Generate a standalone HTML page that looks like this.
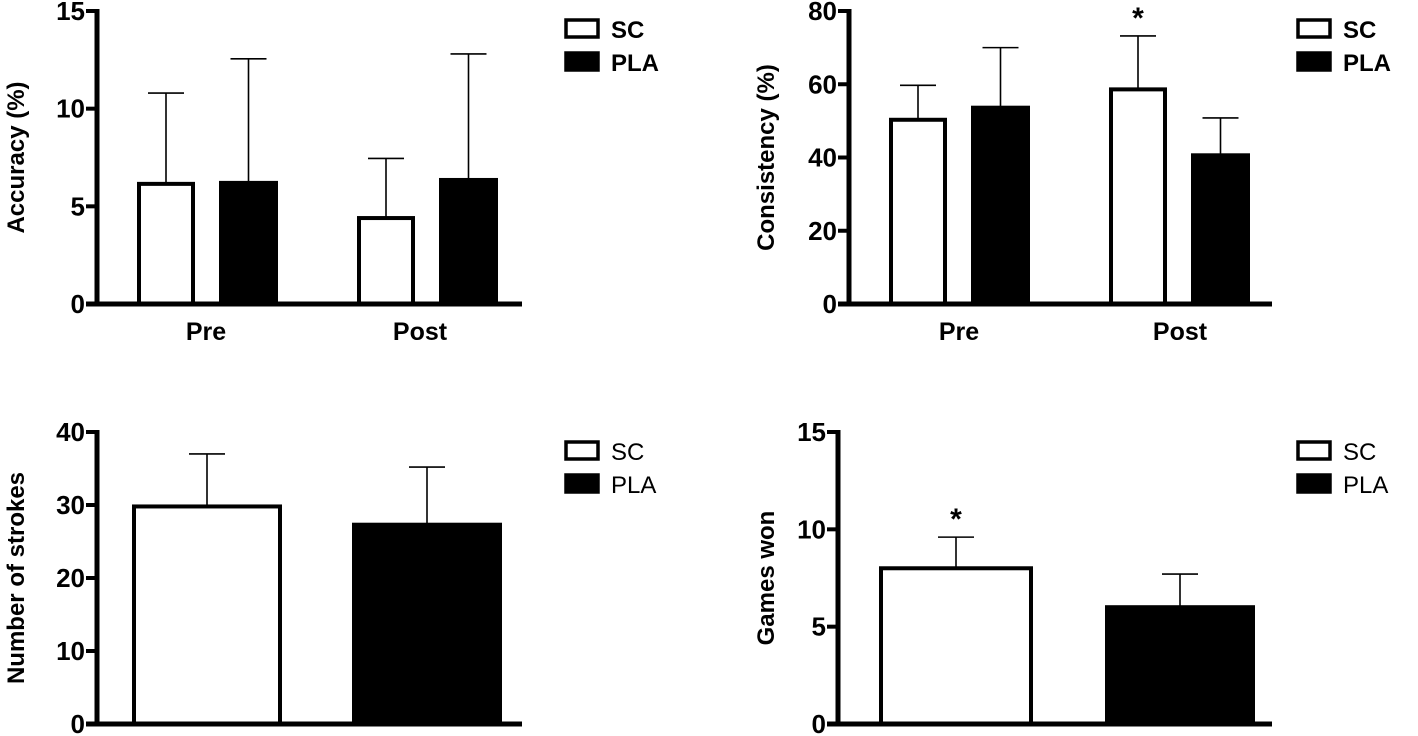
<!DOCTYPE html>
<html><head><meta charset="utf-8"><style>
html,body{margin:0;padding:0;background:#fff;}
svg{display:block;font-family:"Liberation Sans",Arial,sans-serif;}
</style></head><body>
<svg id="fig" width="1418" height="736" viewBox="0 0 1418 736"></svg>
<script>
const accCategories=["Pre","Post"];
const accSC=[6.15,4.4];
const accSCErr=[10.8,7.45];
const accPLA=[6.2,6.35];
const accPLAErr=[12.55,12.8];
const accTicks=[0,5,10,15];

const conSC=[50.3,58.6];
const conSCErr=[59.7,73.2];
const conPLA=[53.6,40.6];
const conPLAErr=[70,50.8];
const conTicks=[0,20,40,60,80];

const strokesVals=[29.8,27.3];
const strokesErr=[37,35.2];
const strokesTicks=[0,10,20,30,40];

const gamesVals=[8,6];
const gamesErr=[9.6,7.7];
const gamesTicks=[0,5,10,15];

const NS="http://www.w3.org/2000/svg";
const svg=document.getElementById('fig');
function mk(tag,attrs,parent,text){const e=document.createElementNS(NS,tag);for(const k in attrs)e.setAttribute(k,attrs[k]);if(text!==undefined)e.textContent=text;(parent||svg).appendChild(e);return e;}

function panel(o){
  const g=mk('g',{});
  
  
  const max=o.ticks[o.ticks.length-1];
  const y=v=>o.y0-(v/max)*(o.y0-o.yTop);
  o.bars.forEach(b=>{
    const top=y(b.v), et=y(b.e), cx=(b.x0+b.x1)/2;
    const el=mk('line',{x1:cx,x2:cx,y1:top,y2:et,stroke:'#000','stroke-width':1.6},g);
    
    
    const cap=mk('line',{x1:cx-18,x2:cx+18,y1:et,y2:et,stroke:'#000','stroke-width':1.6},g);
    
    
    const r=mk('rect',{x:b.x0+2,y:top,width:b.x1-b.x0-4,height:o.y0-top,fill:b.fill?'#000':'#fff',stroke:'#000','stroke-width':4},g);
    
    
    if(b.star){const s=mk('text',{x:cx,y:et-8,'text-anchor':'middle','font-size':30,'font-weight':'bold'},g,'*');
      
      }
  });
  const ya=mk('line',{x1:o.ax,x2:o.ax,y1:o.yTop-2,y2:o.y0+2,stroke:'#000','stroke-width':5},g);
  
  
  const xa=mk('line',{x1:o.ax-11,x2:o.axEnd,y1:o.y0,y2:o.y0,stroke:'#000','stroke-width':5},g);
  
  
  o.ticks.forEach(t=>{
    const ty=y(t);
    const tl=mk('line',{x1:o.ax-11,x2:o.ax,y1:ty,y2:ty,stroke:'#000','stroke-width':4},g);
    
    
    const tx=mk('text',{x:o.ax-12,y:ty+9,'text-anchor':'end','font-size':26,'font-weight':'bold'},g,String(t));
    
    
  });
  const yt=mk('text',{transform:`translate(${o.titleX},${(o.y0+o.yTop)/2}) rotate(-90)`,'text-anchor':'middle','font-size':24,'font-weight':'bold'},g,o.title);
  
  
  (o.cats||[]).forEach(c=>{
    const ct=mk('text',{x:c.x,y:o.y0+36,'text-anchor':'middle','font-size':25,'font-weight':'bold'},g,c.t);
    
    
  });
  [['SC',false],['PLA',true]].forEach((l,i)=>{
    const ly=o.legY+i*33;
    const lr=mk('rect',{x:o.legX+2,y:ly+2,width:32,height:17,fill:l[1]?'#000':'#fff',stroke:'#000','stroke-width':3.5},g);
    
    
    const lt=mk('text',{x:o.legX+47,y:ly+20,'font-size':24,'font-weight':o.boldLeg?'bold':'normal'},g,l[0]);
    
    
  });
}

panel({name:'accuracy-chart',ax:97,axEnd:522,y0:304,yTop:11,ticks:accTicks,title:'Accuracy (%)',titleX:24,
  bars:[{x0:137,x1:195,v:accSC[0],e:accSCErr[0],name:'bar-pre-sc'},{x0:219,x1:278,v:accPLA[0],e:accPLAErr[0],fill:1,name:'bar-pre-pla'},
        {x0:357,x1:415,v:accSC[1],e:accSCErr[1],name:'bar-post-sc'},{x0:439,x1:498,v:accPLA[1],e:accPLAErr[1],fill:1,name:'bar-post-pla'}],
  cats:[{x:206,t:accCategories[0]},{x:420,t:accCategories[1]}],legX:564,legY:18,boldLeg:true});

panel({name:'consistency-chart',ax:849,axEnd:1272,y0:304,yTop:11,ticks:conTicks,title:'Consistency (%)',titleX:774,
  bars:[{x0:889,x1:947,v:conSC[0],e:conSCErr[0],name:'bar-pre-sc'},{x0:971,x1:1030,v:conPLA[0],e:conPLAErr[0],fill:1,name:'bar-pre-pla'},
        {x0:1109,x1:1167,v:conSC[1],e:conSCErr[1],star:1,name:'bar-post-sc'},{x0:1191,x1:1250,v:conPLA[1],e:conPLAErr[1],fill:1,name:'bar-post-pla'}],
  cats:[{x:959,t:accCategories[0]},{x:1180,t:accCategories[1]}],legX:1296,legY:18,boldLeg:true});

panel({name:'strokes-chart',ax:97,axEnd:522,y0:724,yTop:432,ticks:strokesTicks,title:'Number of strokes',titleX:24,
  bars:[{x0:132,x1:282,v:strokesVals[0],e:strokesErr[0],name:'bar-sc'},{x0:352,x1:502,v:strokesVals[1],e:strokesErr[1],fill:1,name:'bar-pla'}],
  legX:564,legY:440,boldLeg:false});

panel({name:'games-won-chart',ax:838,axEnd:1272,y0:724,yTop:432,ticks:gamesTicks,title:'Games won',titleX:774,
  bars:[{x0:879,x1:1033,v:gamesVals[0],e:gamesErr[0],star:1,name:'bar-sc'},{x0:1105,x1:1255,v:gamesVals[1],e:gamesErr[1],fill:1,name:'bar-pla'}],
  legX:1296,legY:440,boldLeg:false});
</script>
</body></html>
